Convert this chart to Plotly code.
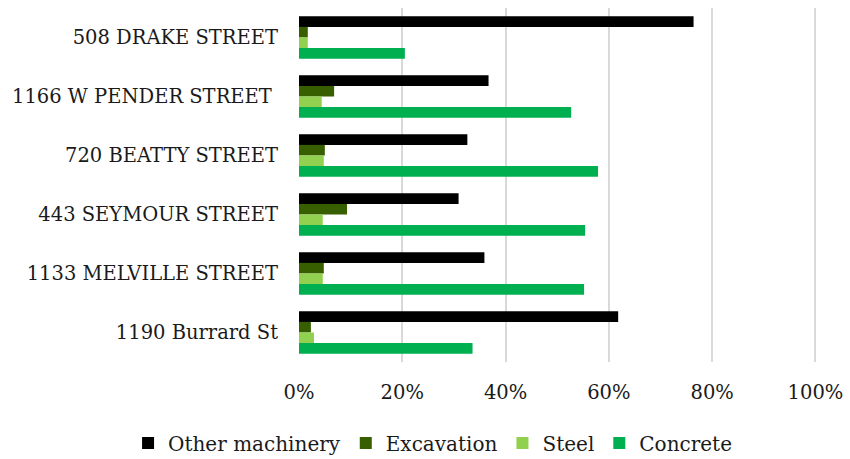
import plotly.graph_objects as go

# Sites, top to bottom
sites = [
    "508 DRAKE STREET",
    "1166 W PENDER STREET\u00a0",
    "720 BEATTY STREET",
    "443 SEYMOUR STREET",
    "1133 MELVILLE STREET",
    "1190 Burrard St",
]

# Share of emissions by source (fractions)
other_machinery = [0.764, 0.367, 0.326, 0.309, 0.359, 0.618]
excavation = [0.017, 0.068, 0.050, 0.093, 0.048, 0.023]
steel = [0.017, 0.044, 0.048, 0.046, 0.046, 0.029]
concrete = [0.205, 0.527, 0.579, 0.554, 0.552, 0.336]

series = [
    ("Other machinery", other_machinery, "#000000"),
    ("Excavation", excavation, "#375F00"),
    ("Steel", steel, "#92D050"),
    ("Concrete", concrete, "#00B050"),
]

FONT = "DejaVu Serif"
TEXT = "#1a1a1a"

fig = go.Figure()
for name, vals, color in series:
    fig.add_trace(go.Bar(
        y=sites, x=vals, name=name, orientation="h",
        marker=dict(color=color, line=dict(width=0)),
    ))

fig.update_layout(
    width=850, height=459,
    margin=dict(l=299, r=33, t=8, b=97, autoexpand=False),
    paper_bgcolor="white", plot_bgcolor="white",
    barmode="group", bargap=0.28, bargroupgap=0,
    font=dict(family=FONT, size=19.5, color=TEXT),
    showlegend=True,
    legend=dict(
        orientation="h", x=-0.33, xanchor="left", y=-0.229, yanchor="middle",
        font=dict(family=FONT, size=20, color=TEXT),
        itemwidth=30, bgcolor="rgba(0,0,0,0)",
    ),
)
fig.update_xaxes(
    range=[0, 1.003], tickvals=[0, 0.2, 0.4, 0.6, 0.8, 1.0], tickformat=".0%",
    tickfont=dict(family=FONT, size=19.5, color=TEXT),
    showgrid=True, gridcolor="#d9d9d9", gridwidth=1.5,
    zeroline=False, showline=False, ticks="", automargin=False,
    ticklabelstandoff=16,
)
fig.update_yaxes(
    autorange="reversed", showgrid=False, zeroline=False, showline=False,
    tickfont=dict(family=FONT, size=19.5, color=TEXT), automargin=False,
    ticks="", ticklabelstandoff=20,
)

fig.write_html("out.html")
